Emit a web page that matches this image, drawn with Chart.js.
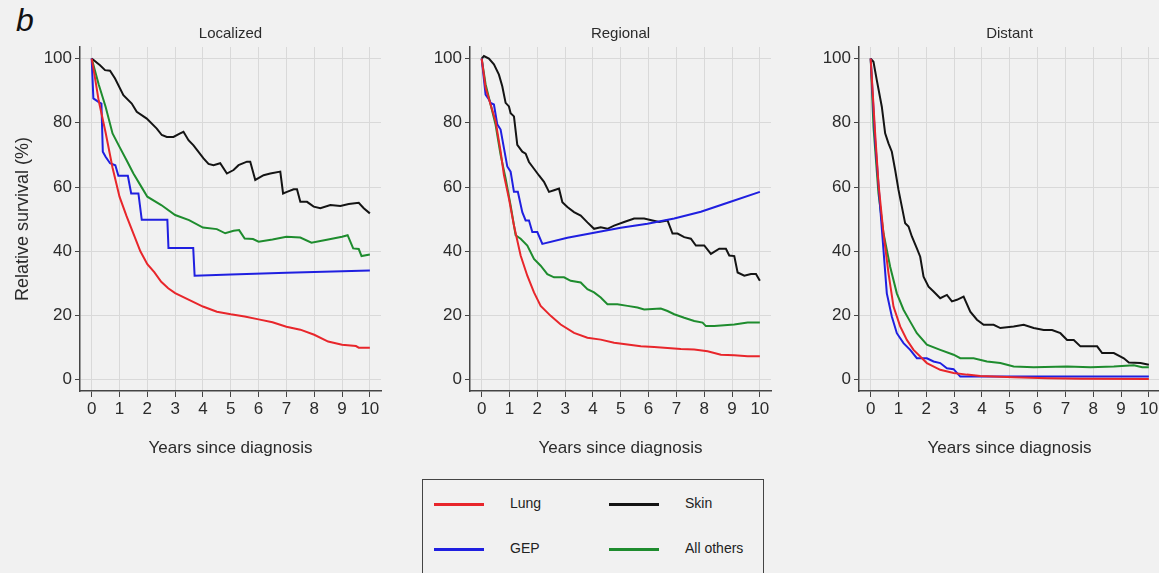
<!DOCTYPE html>
<html>
<head>
<meta charset="utf-8">
<script src="https://cdn.jsdelivr.net/npm/chart.js@4"></script>
<style>
  html, body { margin: 0; padding: 0; background: #f1f1f1; overflow: hidden; }
  body { width: 1159px; height: 573px; position: relative; font-family: "Liberation Sans", Arial, sans-serif; }
  canvas { position: absolute; top: 0; }
  #tag { position: absolute; left: 16px; top: 2px; font-size: 32px; font-style: italic; color: #111; }
  #legend { position: absolute; left: 422px; top: 479px; width: 342px; height: 110px; border: 1.5px solid #444; box-sizing: border-box; }
  .item { position: absolute; font-size: 14px; color: #222; }
  .swatch { position: absolute; width: 50px; height: 3px; }
</style>
</head>
<body>
<div id="tag">b</div>
<canvas id="c1" width="390" height="470" style="left:0px"></canvas>
<canvas id="c2" width="390" height="470" style="left:390px"></canvas>
<canvas id="c3" width="390" height="470" style="left:779px"></canvas>
<div id="legend"></div>
<script>
// series labels and colours
const seriesNames = ['Lung', 'GEP', 'Skin', 'All others'];
const seriesColors = ['#e8262b', '#1f1fe0', '#141414', '#1e8c2e'];
const panelTitles = ['Localized', 'Regional', 'Distant'];

// Localized: [years, relative survival %]
const locLung = [[0,100],[0.1,95],[0.25,87],[0.5,77],[0.75,66],[1,57],[1.25,51],[1.5,45.5],[1.75,40],[2,36],[2.25,33.5],[2.5,30.5],[2.75,28.5],[3,27],[3.5,24.9],[4,22.8],[4.5,21.2],[5,20.4],[5.5,19.7],[6,18.8],[6.5,17.9],[7,16.5],[7.5,15.6],[8,14],[8.5,11.9],[9,10.9],[9.5,10.5],[9.6,10],[10,10]];
const locGep = [[0,100],[0.06,87.6],[0.24,86.5],[0.35,86],[0.4,71],[0.5,69.4],[0.66,67.4],[0.85,66.8],[0.96,63.5],[1.3,63.5],[1.42,58],[1.68,58],[1.8,49.8],[2.72,49.8],[2.76,41],[3.65,41],[3.7,32.4],[5,32.8],[7,33.3],[10,34]];
const locSkin = [[0,100],[0.3,97.9],[0.48,96.4],[0.66,96.2],[0.84,93.8],[1.14,88.6],[1.44,86],[1.62,83.4],[1.98,81.3],[2.34,78.2],[2.52,76.2],[2.7,75.6],[2.94,75.6],[3.18,76.7],[3.3,77.2],[3.48,74.6],[3.66,73],[4.02,68.9],[4.2,67.2],[4.38,66.8],[4.62,67.4],[4.86,64.2],[5.1,65.3],[5.28,66.8],[5.58,67.9],[5.7,67.9],[5.88,62.2],[6.18,63.7],[6.42,64.2],[6.78,64.8],[6.88,58],[7.02,58.5],[7.26,59.3],[7.38,59.3],[7.5,55.4],[7.74,55.4],[7.98,53.9],[8.22,53.4],[8.58,54.4],[8.94,54.1],[9.24,54.7],[9.6,55.1],[9.78,53.4],[10,51.8]];
const locOther = [[0,100],[0.25,92],[0.5,85],[0.75,76.7],[1,72.5],[1.25,68.4],[1.5,64.2],[1.75,60.6],[2,57],[2.5,54.4],[3,51.3],[3.5,49.7],[4,47.4],[4.5,46.9],[4.8,45.6],[5.1,46.4],[5.3,46.6],[5.5,44],[5.8,43.8],[6,43],[6.5,43.7],[7,44.5],[7.5,44.3],[7.9,42.7],[8.5,43.7],[9,44.5],[9.2,45],[9.4,40.9],[9.6,40.7],[9.7,38.5],[10,39]];

// Regional
const regLung = [[0,100],[0.14,90.9],[0.32,85.7],[0.5,80.5],[0.68,71.1],[0.8,63.7],[0.98,56.4],[1.16,48],[1.4,38.7],[1.64,32.4],[1.88,27.2],[2.12,23],[2.48,19.9],[2.84,17.2],[3.32,14.6],[3.8,13.1],[4.28,12.5],[4.76,11.5],[5.24,11],[5.72,10.4],[6.2,10.2],[6.68,9.9],[7.16,9.6],[7.64,9.4],[8.12,8.9],[8.6,7.8],[9.08,7.6],[9.56,7.3],[10,7.3]];
const regGep = [[0,100],[0.14,88.8],[0.26,87.3],[0.32,86.2],[0.44,85.7],[0.56,79.5],[0.68,77.9],[0.8,72.1],[0.92,66.4],[1.04,64.8],[1.16,58.5],[1.3,58.5],[1.46,52.2],[1.58,49.6],[1.7,49.6],[1.82,46],[2,46],[2.18,42.3],[3.08,44.2],[4.04,45.8],[5,47.3],[5.96,48.6],[6.92,50.2],[7.88,52.3],[8.84,55.1],[10,58.5]];
const regSkin = [[0,100],[0.08,100.8],[0.26,100],[0.44,98.2],[0.62,95],[0.74,91.4],[0.86,86.2],[0.98,85.1],[1.04,83],[1.16,82],[1.28,73.1],[1.46,71],[1.58,70.4],[1.7,67.8],[1.88,65.7],[2.06,63.6],[2.24,61.6],[2.42,58.5],[2.6,59],[2.78,59.5],[2.9,55.3],[3.08,53.8],[3.32,52.2],[3.56,51.1],[3.8,49],[4.04,47],[4.28,47.5],[4.52,47],[4.76,48],[5.12,49.1],[5.48,50.2],[5.84,50.2],[6.14,49.6],[6.38,49.1],[6.68,49.6],[6.86,45.5],[7.04,45.5],[7.28,44.4],[7.52,43.9],[7.7,41.8],[8,41.8],[8.24,39.2],[8.54,40.8],[8.78,40.8],[8.9,38.7],[9.08,38.5],[9.2,33.4],[9.44,32.4],[9.68,32.9],[9.86,32.9],[10,30.8]];
const regOther = [[0,100],[0.14,92],[0.32,85.7],[0.5,79.4],[0.68,70],[0.86,62.7],[1.04,54.3],[1.22,45],[1.4,43.9],[1.64,41.8],[1.88,37.6],[2.12,35.5],[2.36,32.9],[2.6,31.9],[2.96,31.9],[3.2,30.8],[3.56,30.3],[3.8,28.2],[4.04,27.2],[4.28,25.6],[4.52,23.5],[4.88,23.5],[5.24,23],[5.6,22.5],[5.84,21.9],[6.44,22.2],[6.68,21.4],[6.92,20.4],[7.28,19.3],[7.64,18.3],[7.94,17.8],[8.06,16.7],[8.36,16.7],[9.08,17.2],[9.56,17.8],[10,17.8]];

// Distant
const disLung = [[0,100],[0.16,76.7],[0.28,61.1],[0.46,45.6],[0.64,33.2],[0.82,22.8],[1.06,16.6],[1.3,12.4],[1.54,9.3],[2.02,5.2],[2.5,3.1],[2.98,2.1],[3.46,1.6],[3.94,1.2],[5.14,0.8],[6.34,0.5],[7.54,0.3],[10,0.2]];
const disGep = [[0,100],[0.16,74.6],[0.34,53.9],[0.58,26.9],[0.76,19.7],[0.94,14.5],[1.18,11.4],[1.42,9.3],[1.66,6.7],[2.02,6.7],[2.26,5.7],[2.5,5.2],[2.74,3.6],[2.98,3.3],[3.22,1],[3.94,1],[10,1]];
const disSkin = [[0,100],[0.1,99],[0.22,93.3],[0.4,85],[0.52,76.7],[0.64,73.6],[0.76,71],[0.88,65.3],[1,59.1],[1.12,53.9],[1.24,48.7],[1.36,47.7],[1.48,44.6],[1.66,40.9],[1.78,38.3],[1.9,32.1],[2.08,29],[2.26,27.5],[2.5,25.4],[2.74,26.4],[2.92,24.4],[3.1,24.9],[3.34,25.9],[3.58,21.2],[3.82,18.7],[4.06,17.1],[4.42,17.1],[4.66,16.1],[5.14,16.6],[5.5,17.1],[5.86,16.1],[6.22,15.5],[6.52,15.5],[6.82,14.5],[7.06,12.4],[7.3,12.4],[7.54,10.4],[8.14,10.4],[8.32,8.3],[8.74,8.3],[9.1,6.7],[9.28,5.4],[9.7,5.2],[10,4.7]];
const disOther = [[0,100],[0.1,78.8],[0.28,58],[0.46,45.6],[0.7,35.2],[0.94,26.9],[1.18,21.8],[1.42,18.1],[1.66,14.5],[2.02,10.9],[2.5,9.3],[2.98,7.8],[3.22,6.7],[3.7,6.7],[4.18,5.7],[4.66,5.2],[5.14,4.1],[5.86,3.9],[7.06,4.1],[7.9,3.9],[8.74,4.1],[9.46,4.5],[9.76,3.9],[10,3.9]];

const yearTicks = [0,1,2,3,4,5,6,7,8,9,10];
const survivalTicks = [0,20,40,60,80,100];

const FONT = '"Liberation Sans", Arial, sans-serif';
const TEXT = '#2b2b2b';

function makePanel(id, title, lines, yTitle) {
    const datasets = lines.map((pts, i) => ({
        label: seriesNames[i],
        data: pts.map(p => ({x: p[0], y: p[1]})),
        borderColor: seriesColors[i],
        borderWidth: 2,
        pointRadius: 0,
        tension: 0,
        fill: false,
    }));
    new Chart(document.getElementById(id), {
        type: 'line',
        data: {datasets: datasets},
        options: {
            responsive: false,
            animation: false,
            layout: {padding: {top: 0, right: 9, bottom: 9, left: 0}},
            plugins: {
                legend: {display: false},
                tooltip: {enabled: false},
                title: {
                    display: true,
                    text: title,
                    fullSize: false,
                    color: TEXT,
                    font: {family: FONT, size: 15, weight: 'normal'},
                    padding: {top: 25, bottom: 4},
                },
            },
            scales: {
                x: {
                    type: 'linear',
                    min: -0.42,
                    max: 10.4,
                    afterBuildTicks: s => { s.ticks = yearTicks.map(v => ({value: v})); },
                    ticks: {color: TEXT, font: {family: FONT, size: 17}, padding: 2, maxRotation: 0, autoSkip: false},
                    grid: {color: '#d9d9d9', tickColor: '#444', tickLength: 6, lineWidth: 1},
                    border: {color: '#444', width: 1.5},
                    title: {display: true, text: 'Years since diagnosis', color: TEXT, font: {family: FONT, size: 17}, padding: {top: 0, bottom: 2}},
                    afterFit: s => { s.height = 70; },
                },
                y: {
                    min: -3.5,
                    max: 103.6,
                    afterBuildTicks: s => { s.ticks = survivalTicks.map(v => ({value: v})); },
                    ticks: {color: TEXT, font: {family: FONT, size: 17}, padding: 3},
                    grid: {color: '#d9d9d9', tickColor: '#444', tickLength: 5, lineWidth: 1},
                    border: {color: '#444', width: 1.5},
                    title: {display: yTitle, text: 'Relative survival (%)', color: TEXT, font: {family: FONT, size: 18}, padding: {top: 12, bottom: 0}},
                    afterFit: s => { s.width = 80; },
                },
            },
        },
    });
}

makePanel('c1', panelTitles[0], [locLung, locGep, locSkin, locOther], true);
makePanel('c2', panelTitles[1], [regLung, regGep, regSkin, regOther], false);
makePanel('c3', panelTitles[2], [disLung, disGep, disSkin, disOther], false);

// legend, two columns
const legend = document.getElementById('legend');
const slots = [[11, 24], [11, 69], [186, 24], [186, 69]];
seriesNames.forEach((name, k) => {
    const [lx, ly] = slots[k];
    const sw = document.createElement('div');
    sw.className = 'swatch';
    sw.style.left = lx + 'px';
    sw.style.top = (ly - 1.5) + 'px';
    sw.style.background = seriesColors[k];
    legend.appendChild(sw);
    const t = document.createElement('div');
    t.className = 'item';
    t.style.left = (lx + 76) + 'px';
    t.style.top = (ly - 9) + 'px';
    t.textContent = name;
    legend.appendChild(t);
});
</script>
</body>
</html>
